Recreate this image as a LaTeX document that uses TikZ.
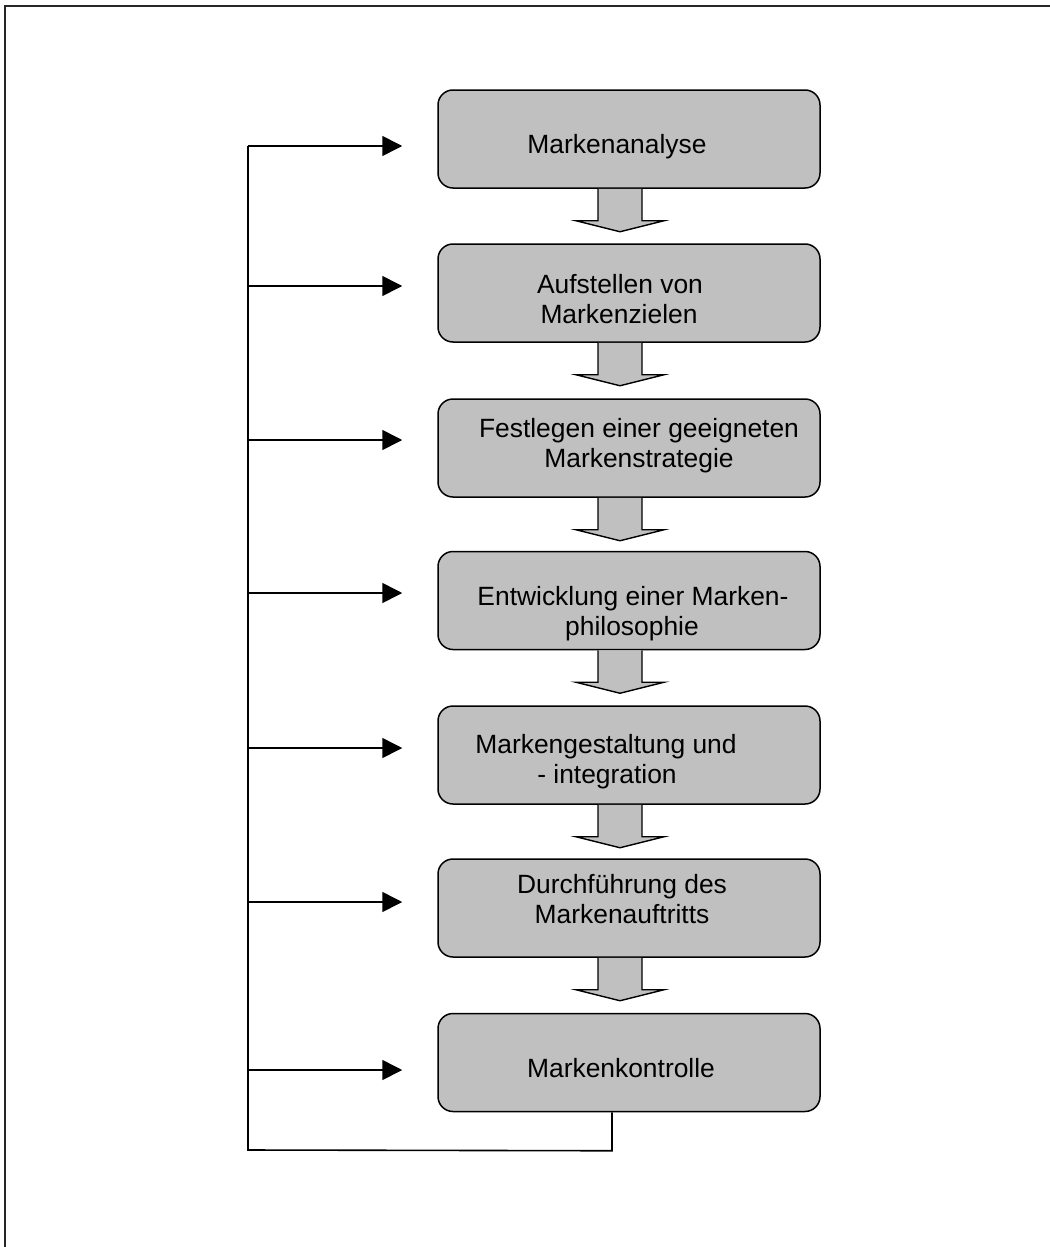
\documentclass[tikz,border=0pt]{standalone}
\usepackage{fontspec}
\setmainfont{Liberation Sans}
\usetikzlibrary{arrows.meta,calc}

\definecolor{boxgray}{RGB}{192,192,192}

\begin{document}
\begin{tikzpicture}[x=1pt,y=-1pt,
  stepbox/.style={draw=black,line width=1.5pt,fill=boxgray,rounded corners=15pt,
    minimum width=382pt,minimum height=98pt,inner sep=0pt},
  steptext/.style={anchor=base,inner sep=0pt,font=\fontsize{26.4}{30}\selectfont},
  blockarrow/.style={draw=black,line width=1.4pt,fill=boxgray,line join=miter},
  feedline/.style={draw=black,line width=1.6pt},
  feedarrow/.style={feedline,-{Triangle[length=20pt,width=20pt]}}
]
\useasboundingbox (0,0) rectangle (1049,1247);

% outer frame
\draw[line width=2.2pt,black!85] (5,6) rectangle (1070,1270);

% process steps
\node[stepbox] (b1) at (629,139) {};
\node[stepbox] (b2) at (629,293) {};
\node[stepbox] (b3) at (629,448) {};
\node[stepbox] (b4) at (629,600.5) {};
\node[stepbox] (b5) at (629,755) {};
\node[stepbox] (b6) at (629,908) {};
\node[stepbox] (b7) at (629,1062.5) {};

% step labels
\node[steptext] (t1) at (617,153) {Markenanalyse};
\node[steptext] (t2a) at (620,293) {Aufstellen von};
\node[steptext] (t2b) at (619,323) {Markenzielen};
\node[steptext] (t3a) at (639,437) {Festlegen einer geeigneten};
\node[steptext] (t3b) at (639,467) {Markenstrategie};
\node[steptext] (t4a) at (633,605) {Entwicklung einer Marken-};
\node[steptext] (t4b) at (632,635) {philosophie};
\node[steptext] (t5a) at (606,753) {Markengestaltung und};
\node[steptext] (t5b) at (607,783) {- integration};
\node[steptext] (t6a) at (622,893) {Durchführung des};
\node[steptext] (t6b) at (622,923) {Markenauftritts};
\node[steptext] (t7) at (621,1077) {Markenkontrolle};

% block arrows between consecutive steps
\foreach \a in {b1,b2,b3,b4,b5,b6}{
  \path[blockarrow] ($(\a.south)+(-9,0)$) coordinate (s)
    ($(s)+(-22,0)$) -- ($(s)+(-22,32)$) -- ($(s)+(-44,32)$) -- ($(s)+(0,43)$)
    -- ($(s)+(44,32)$) -- ($(s)+(22,32)$) -- ($(s)+(22,0)$);
}

% feedback loop
\coordinate (loopR) at ($(b7.south)+(-17,38.5)$);
\coordinate (loopL) at (248,1150);
\coordinate (trunkTop) at (248,146);
\draw[feedline] ($(b7.south)+(-17,0)$) -- (loopR) -- (loopL) -- (trunkTop);

\foreach \b/\y in {b1/146,b2/286,b3/440,b4/593,b5/748,b6/902,b7/1070}{
  \coordinate (f\b) at (248,\y);
  \coordinate (e\b) at ($(\b.west)+(-35,0)$);
  \draw[feedarrow] (f\b) -- (f\b -| e\b);
}
\end{tikzpicture}
\end{document}
